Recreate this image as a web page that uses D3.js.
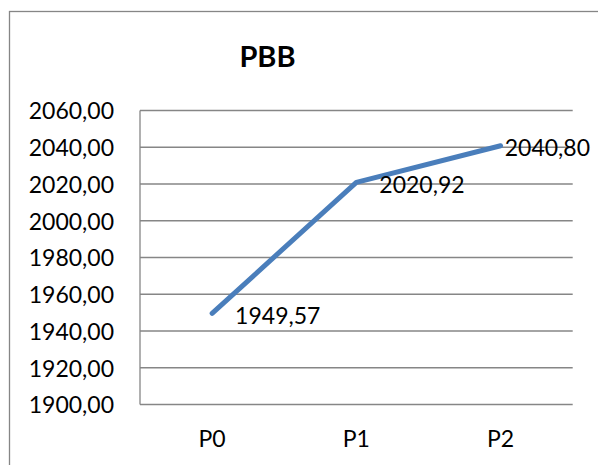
<!DOCTYPE html>
<html>
<head>
<meta charset="utf-8">
<script src="https://cdn.jsdelivr.net/npm/d3@7"></script>
<style>
html,body{margin:0;padding:0;background:#fff;overflow:hidden;}
svg{display:block;}
text{font-family:Lato,"Open Sans",sans-serif;fill:#000;}
</style>
</head>
<body>
<svg id="chart" width="598" height="465"></svg>
<script>
const title = "PBB";
const categories = ["P0", "P1", "P2"];
const values = [1949.57, 2020.92, 2040.80];
const yTicks = [1900, 1920, 1940, 1960, 1980, 2000, 2020, 2040, 2060];

const fmt = v => d3.format(".2f")(v).replace(".", ",");

const svg = d3.select("#chart");
const W = 598, H = 465;
const plot = {left: 140, right: 572.7, top: 110.5, bottom: 404.5};

// outer border
svg.append("rect")
  .attr("x", 9.5).attr("y", 11.5)
  .attr("width", 640).attr("height", 500)
  .attr("fill", "#fff")
  .attr("stroke", "#868686").attr("stroke-width", 1.3);

const x = d3.scaleBand().domain(categories).range([plot.left, plot.right]).padding(0);
const y = d3.scaleLinear().domain([1900, 2060]).range([plot.bottom, plot.top]);

// gridlines
svg.append("g").selectAll("line").data(yTicks).join("line")
  .attr("x1", plot.left).attr("x2", plot.right)
  .attr("y1", d => y(d)).attr("y2", d => y(d))
  .attr("stroke", "#868686").attr("stroke-width", 1.3);

// y axis line
svg.append("line")
  .attr("x1", plot.left).attr("x2", plot.left)
  .attr("y1", plot.top).attr("y2", plot.bottom)
  .attr("stroke", "#868686").attr("stroke-width", 1.3);

// y axis labels via d3 axis
const yAxis = d3.axisLeft(y).tickValues(yTicks).tickFormat(fmt).tickSize(0).tickPadding(26);
const gy = svg.append("g").attr("transform", `translate(${plot.left},0)`).call(yAxis);
gy.select(".domain").remove();
gy.selectAll("text").attr("font-size", 23).style("font-family", "Lato").attr("fill", "#000").attr("dy", "0.36em");

// x axis labels
const xAxis = d3.axisBottom(x).tickSize(0).tickPadding(0);
const gx = svg.append("g").attr("transform", `translate(0,${plot.bottom})`).call(xAxis);
gx.select(".domain").remove();
gx.selectAll("text").attr("font-size", 23).style("font-family", "Lato").attr("fill", "#000")
  .attr("y", 42).attr("dy", 0);

// title
svg.append("text").attr("x", 267.5).attr("y", 67)
  .attr("text-anchor", "middle").attr("font-size", 29).attr("font-weight", "bold")
  .text(title);

// line
const pts = categories.map((c, i) => [x(c) + x.bandwidth() / 2, y(values[i])]);
svg.append("path")
  .attr("d", d3.line()(pts))
  .attr("fill", "none").attr("stroke", "#4a7ebb").attr("stroke-width", 5)
  .attr("stroke-linecap", "round").attr("stroke-linejoin", "round");

// data labels
svg.append("g").selectAll("text").data(values).join("text")
  .attr("font-size", 23)
  .attr("y", (d, i) => pts[i][1] + 2)
  .attr("dy", "0.36em")
  .text(fmt)
  .each(function(d, i) {
    const w = this.getComputedTextLength();
    d3.select(this).attr("x", Math.min(pts[i][0] + 23, 590 - w));
  });
</script>
</body>
</html>
